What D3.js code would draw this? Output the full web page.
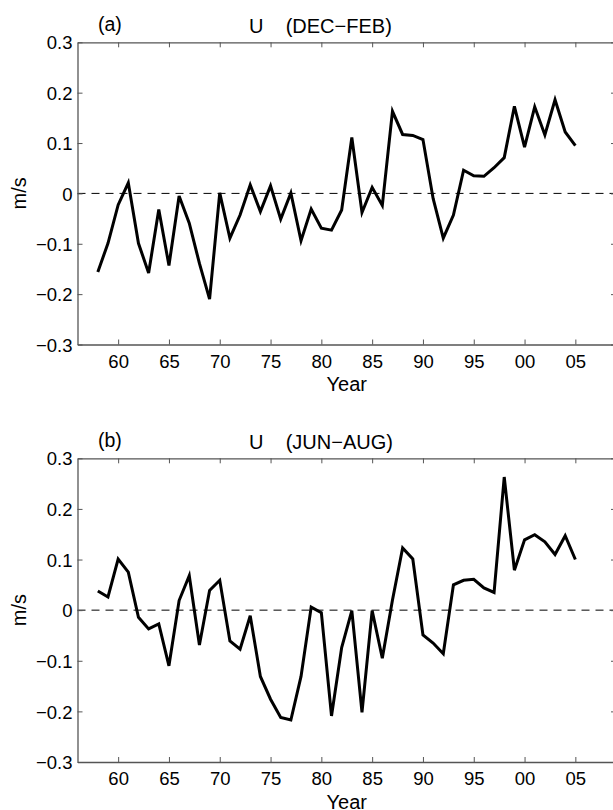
<!DOCTYPE html>
<html>
<head>
<meta charset="utf-8">
<script src="https://cdn.jsdelivr.net/npm/d3@7"></script>
<style>
  body { margin: 0; background: #fff; }
  svg { display: block; font-family: "Liberation Sans", Arial, sans-serif; }
  .tick text { font-size: 18.5px; fill: #000; }
  .title { white-space: pre; }
</style>
</head>
<body>
<svg id="chart" width="613" height="810"></svg>
<script>
// data
const years = d3.range(1958, 2006);
const winterU = [
  -0.156, -0.099, -0.023, 0.021, -0.099, -0.158, -0.032, -0.143, -0.005, -0.059,
  -0.139, -0.210, 0.001, -0.089, -0.043, 0.017, -0.036, 0.015, -0.051, 0.001,
  -0.094, -0.031, -0.069, -0.073, -0.033, 0.111, -0.038, 0.012, -0.024, 0.163,
  0.117, 0.115, 0.107, -0.010, -0.089, -0.043, 0.046, 0.035, 0.034, 0.051,
  0.071, 0.173, 0.092, 0.172, 0.116, 0.186, 0.122, 0.095
];
const summerU = [
  0.038, 0.026, 0.101, 0.075, -0.014, -0.037, -0.027, -0.110, 0.019, 0.068,
  -0.069, 0.039, 0.059, -0.061, -0.077, -0.011, -0.131, -0.176, -0.212, -0.217,
  -0.131, 0.006, -0.005, -0.209, -0.074, -0.001, -0.202, -0.001, -0.095, 0.020,
  0.123, 0.101, -0.049, -0.065, -0.086, 0.050, 0.059, 0.061, 0.044, 0.035,
  0.263, 0.079, 0.139, 0.149, 0.135, 0.110, 0.147, 0.100
];
const xTicks = [1960, 1965, 1970, 1975, 1980, 1985, 1990, 1995, 2000, 2005];
const yTicks = [-0.3, -0.2, -0.1, 0, 0.1, 0.2, 0.3];

const panels = [
  { tag: "(a)", title: "U    (DEC\u2212FEB)", values: winterU, top: 42.3, bottom: 344.5 },
  { tag: "(b)", title: "U    (JUN\u2212AUG)", values: summerU, top: 458.3, bottom: 762 }
];

const svg = d3.select("#chart");
const left = 77.5, right = 616;
const axisColor = "#555";
const tickLen = 5;

const x = d3.scaleLinear().domain([1956, 2009]).range([left, right]);

function fmtY(v) {
  if (v === 0) return "0";
  return d3.format(".1f")(v).replace("-", "\u2212");
}
function fmtX(v) {
  return String(v % 100).padStart(2, "0");
}

panels.forEach(p => {
  const y = d3.scaleLinear().domain([-0.3, 0.3]).range([p.bottom, p.top]);
  const g = svg.append("g");

  // zero reference line
  g.append("line")
    .attr("x1", left).attr("x2", right)
    .attr("y1", y(0)).attr("y2", y(0))
    .attr("stroke", "#000").attr("stroke-width", 1)
    .attr("stroke-dasharray", "8,6");

  // series
  const line = d3.line()
    .x((d, i) => x(years[i]))
    .y(d => y(d));
  g.append("path")
    .datum(p.values)
    .attr("fill", "none")
    .attr("stroke", "#000")
    .attr("stroke-width", 3)
    .attr("stroke-linejoin", "miter")
    .attr("d", line);

  // axes, ticks pointing inward like matlab
  const bottomAxis = g.append("g")
    .attr("transform", `translate(0,${p.bottom})`)
    .call(d3.axisBottom(x).tickValues(xTicks).tickFormat(fmtX).tickSizeInner(-tickLen).tickSizeOuter(0).tickPadding(10));
  const topAxis = g.append("g")
    .attr("transform", `translate(0,${p.top})`)
    .call(d3.axisTop(x).tickValues(xTicks).tickFormat("").tickSizeInner(-tickLen).tickSizeOuter(0));
  const leftAxis = g.append("g")
    .attr("transform", `translate(${left},0)`)
    .call(d3.axisLeft(y).tickValues(yTicks).tickFormat(fmtY).tickSizeInner(-tickLen).tickSizeOuter(0).tickPadding(5));
  const rightAxis = g.append("g")
    .attr("transform", `translate(${right},0)`)
    .call(d3.axisRight(y).tickValues(yTicks).tickFormat("").tickSizeInner(-tickLen).tickSizeOuter(0));

  [bottomAxis, topAxis, leftAxis, rightAxis].forEach(a => {
    a.select(".domain").attr("stroke", axisColor).attr("stroke-width", 1.3);
    a.selectAll(".tick line").attr("stroke", axisColor);
  });
  leftAxis.selectAll(".tick text").attr("dy", "0.36em");

  // labels
  g.append("text")
    .attr("class", "title")
    .attr("x", 249).attr("y", p.top - 9)
    .attr("font-size", 20)
    .text(p.title);
  g.append("text")
    .attr("x", 98).attr("y", p.top - 11)
    .attr("font-size", 19.5)
    .text(p.tag);
  g.append("text")
    .attr("x", (left + right) / 2).attr("y", p.bottom + 46.5)
    .attr("text-anchor", "middle")
    .attr("font-size", 20)
    .text("Year");
  g.append("text")
    .attr("transform", `translate(26,${y(0)}) rotate(-90)`)
    .attr("text-anchor", "middle")
    .attr("font-size", 20)
    .text("m/s");
});
</script>
</body>
</html>
